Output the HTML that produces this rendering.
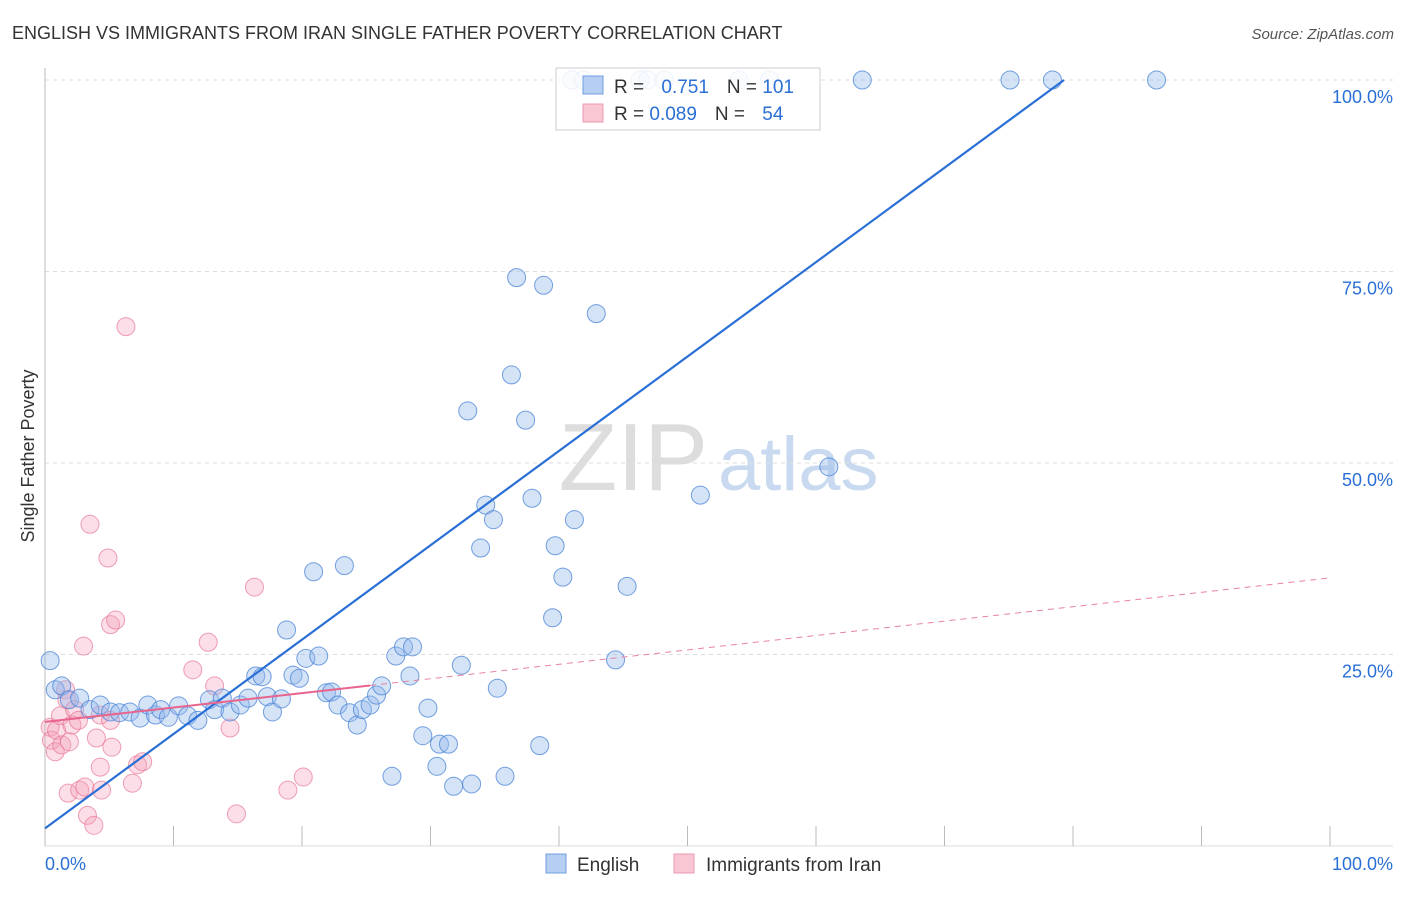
<!DOCTYPE html>
<html><head><meta charset="utf-8"><style>
body{margin:0;background:#fff;font-family:"Liberation Sans",sans-serif;}
svg text{font-family:"Liberation Sans",sans-serif;}
</style></head><body>
<svg id="chart" width="1406" height="892">
<text x="12" y="39" font-size="18" fill="#333">ENGLISH VS IMMIGRANTS FROM IRAN SINGLE FATHER POVERTY CORRELATION CHART</text>
<text x="1394" y="39" font-size="15" fill="#555" font-style="italic" text-anchor="end">Source: ZipAtlas.com</text>
<text x="34" y="456" font-size="18" fill="#333" transform="rotate(-90 34 456)" text-anchor="middle">Single Father Poverty</text>
<text x="708" y="490" font-size="96" fill="#ddd" text-anchor="end" font-family="Liberation Serif">ZIP</text>
<text x="718" y="490" font-size="76" fill="#c9daf0">atlas</text>
<g id="grid"></g><g id="pts"></g><g id="lines"></g>
<g>
<rect x="556" y="68" width="264" height="62" fill="rgba(255,255,255,0.88)" stroke="#ccc"/>
<rect x="583" y="76" width="20" height="18" fill="#b5cef2" stroke="#6f9de0"/>
<rect x="583" y="104" width="20" height="18" fill="#f9c7d4" stroke="#ee9ab2"/>
<text x="614" y="93" font-size="19" fill="#333">R = <tspan fill="#2a6fd6" dx="12">0.751</tspan><tspan dx="18" fill="#333">N = </tspan><tspan fill="#2a6fd6">101</tspan></text>
<text x="614" y="120" font-size="19" fill="#333">R = <tspan fill="#2a6fd6">0.089</tspan><tspan dx="18" fill="#333">N = </tspan><tspan fill="#2a6fd6" dx="12">54</tspan></text>
</g>
<g>
<rect x="546" y="854" width="20" height="19" fill="#b5cef2" stroke="#6f9de0"/>
<text x="577" y="871" font-size="19" fill="#333">English</text>
<rect x="674" y="854" width="20" height="19" fill="#f9c7d4" stroke="#ee9ab2"/>
<text x="706" y="871" font-size="19" fill="#333">Immigrants from Iran</text>
</g>
<text x="45" y="870" font-size="18" fill="#2a6fd6">0.0%</text>
<text x="1393" y="870" font-size="18" fill="#2a6fd6" text-anchor="end">100.0%</text>
</svg>
<script>
const yTicks=[100,75,50,25];
const yTickLabels=["100.0%","75.0%","50.0%","25.0%"];
const englishX=[0.4,0.8,1.3,1.9,2.7,3.5,4.3,5.1,5.8,6.6,7.4,8.0,8.6,9.0,9.6,10.4,11.1,11.9,12.8,13.2,13.8,14.4,15.2,15.8,16.4,16.9,17.3,17.7,18.4,18.8,19.3,19.8,20.3,20.9,21.3,21.9,22.3,22.8,23.3,23.7,24.3,24.7,25.3,25.8,26.2,27.0,27.3,27.9,28.6,28.4,29.4,29.8,30.5,30.7,31.4,31.8,32.4,32.9,33.2,33.9,34.3,34.9,35.2,35.8,36.3,36.7,37.4,37.9,38.5,38.8,39.5,39.7,40.3,41.2,42.9,44.4,45.3,51.0,61.0,41.0,41.9,46.3,46.9,48.2,54.0,56.4,63.6,75.1,78.4,86.5];
const englishY=[24.2,20.4,20.9,19.1,19.3,17.8,18.4,17.5,17.4,17.5,16.7,18.4,17.1,17.8,16.8,18.3,17.0,16.4,19.1,17.8,19.3,17.5,18.4,19.3,22.2,22.1,19.5,17.5,19.2,28.2,22.3,21.9,24.5,35.8,24.8,20.0,20.1,18.4,36.6,17.4,15.8,17.8,18.4,19.7,20.9,9.1,24.8,26.0,26.0,22.2,14.4,18.0,10.4,13.3,13.3,7.8,23.6,56.8,8.1,38.9,44.5,42.6,20.6,9.1,61.5,74.2,55.6,45.4,13.1,73.2,29.8,39.2,35.1,42.6,69.5,24.3,33.9,45.8,49.5,100,100,100,100,100,100,100,100,100,100,100];
const iranX=[0.4,0.5,0.8,0.9,1.2,1.3,1.6,1.7,1.9,2.1,2.3,2.6,1.8,2.7,3.1,3.0,3.3,3.5,3.8,4.0,4.3,4.4,4.9,5.1,5.2,5.5,6.3,6.8,7.2,7.6,11.5,12.7,13.2,14.4,14.9,16.3,18.9,20.1,4.3,5.1];
const iranY=[15.5,13.8,12.3,15.1,17.0,13.2,20.4,19.1,13.6,15.8,17.8,16.4,6.9,7.3,7.7,26.1,4.0,42.0,2.7,14.1,10.3,7.3,37.6,28.9,12.9,29.5,67.8,8.2,10.6,11.0,23.0,26.6,20.9,15.4,4.2,33.8,7.3,9.0,17.1,16.4];
const blueFit=[2.3,1.232];
const pinkFit=[16.2,0.188];
const NS="http://www.w3.org/2000/svg";
const X0=45,X1=1330,Y0=846,Y100=80;
const sx=v=>X0+(X1-X0)*v/100, sy=v=>Y0-(Y0-Y100)*v/100;
function mk(t,a,p){const e=document.createElementNS(NS,t);for(const k in a)e.setAttribute(k,a[k]);p.appendChild(e);return e;}
const grid=document.getElementById('grid');
yTicks.forEach((t,i)=>{
 const l=mk('line',{x1:X0,x2:1393,y1:sy(t),y2:sy(t),stroke:'#ddd','stroke-dasharray':'4 4'},grid);
 
 
 const tx=mk('text',{x:1393,y:sy(t)+23,'font-size':18,fill:'#2a6fd6','text-anchor':'end'},grid);
 tx.textContent=yTickLabels[i];
 
 
});
const ax=mk('line',{x1:X0,x2:X0,y1:68,y2:Y0,stroke:'#bbb'},grid);


const bx=mk('line',{x1:X0,x2:1393,y1:Y0,y2:Y0,stroke:'#ddd'},grid);


for(let i=0;i<=10;i++){const t=mk('line',{x1:sx(i*10),x2:sx(i*10),y1:826,y2:Y0,stroke:'#bbb'},grid);
 
 }
const pts=document.getElementById('pts');
iranX.forEach((x,i)=>{const c=mk('circle',{cx:sx(x),cy:sy(iranY[i]),r:9,fill:'rgba(244,160,185,0.35)',stroke:'rgba(232,120,150,0.7)'},pts);
 
 });
englishX.forEach((x,i)=>{const c=mk('circle',{cx:sx(x),cy:sy(englishY[i]),r:9,fill:'rgba(150,185,235,0.4)',stroke:'rgba(70,130,215,0.75)'},pts);
 
 });
const lines=document.getElementById('lines');
const xEnd=(100-blueFit[0])/blueFit[1];
const bl=mk('line',{x1:sx(0),y1:sy(blueFit[0]),x2:sx(xEnd),y2:sy(100),stroke:'#2a6fd6','stroke-width':2.2},lines);


const pl=mk('line',{x1:sx(0),y1:sy(pinkFit[0]),x2:sx(25.3),y2:sy(pinkFit[0]+pinkFit[1]*25.3),stroke:'#e8648c','stroke-width':2},lines);


const pd=mk('line',{x1:sx(25.3),y1:sy(pinkFit[0]+pinkFit[1]*25.3),x2:sx(100),y2:sy(pinkFit[0]+pinkFit[1]*100),stroke:'#e8849f','stroke-width':1,'stroke-dasharray':'6 5'},lines);


</script>
</body></html>
